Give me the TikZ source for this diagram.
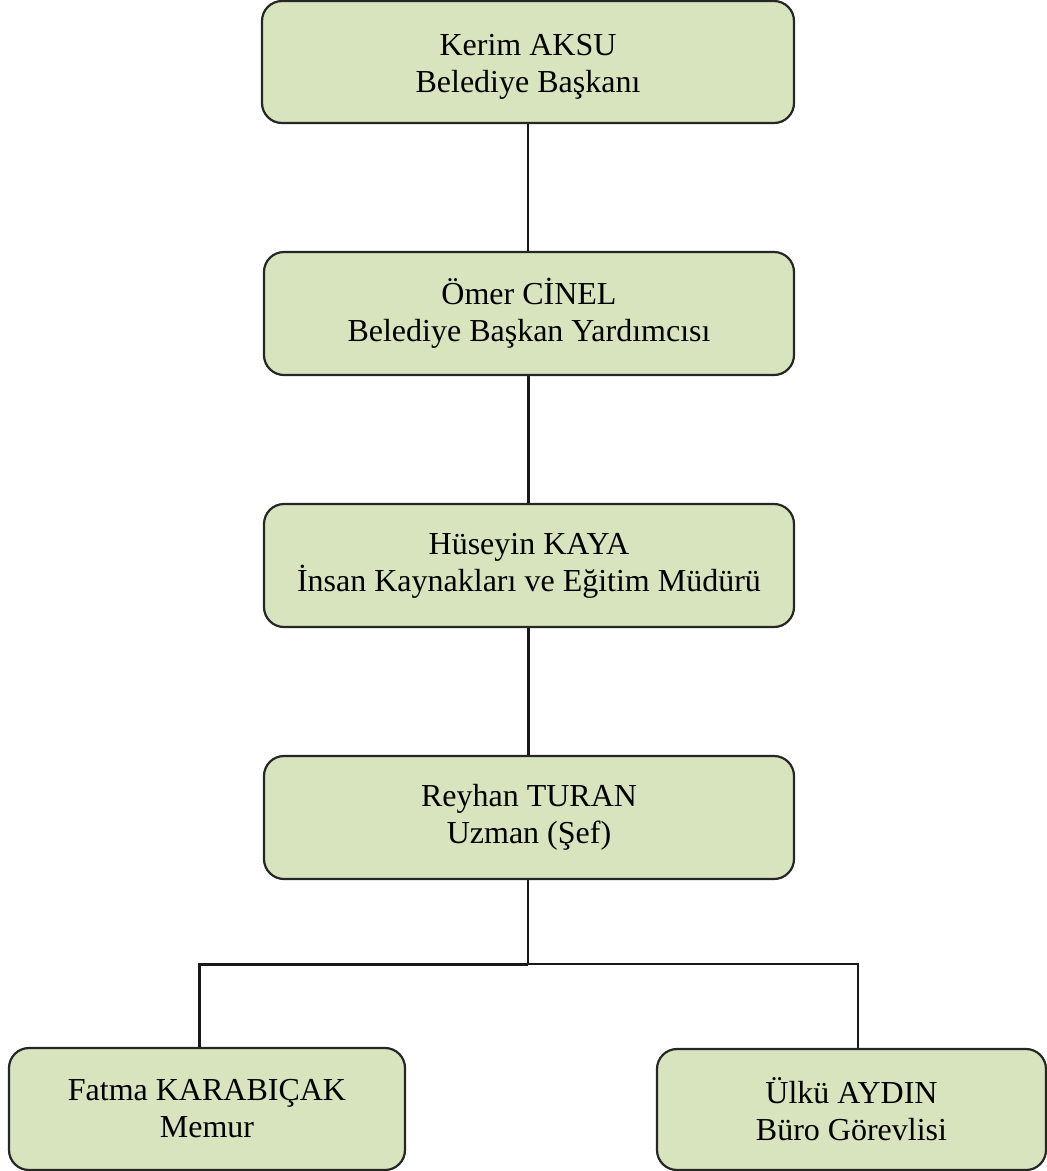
\documentclass[tikz,border=0pt]{standalone}
\usepackage{fontspec}
\setmainfont{Liberation Serif}
\definecolor{boxfill}{HTML}{D7E4BD}
\begin{document}
\begin{tikzpicture}[x=1pt,y=-1pt,
  orgbox/.style={draw=black!85, line width=2.2pt, fill=boxfill, rounded corners=20pt,
    inner sep=0pt, align=center, font=\fontsize{32}{37}\selectfont},
  link/.style={draw=black!90, line width=3pt},
  thinlink/.style={draw=black!90, line width=2.3pt}]
\useasboundingbox (0,0) rectangle (1047,1171);
\node[orgbox, minimum width=532pt, minimum height=122pt] (k) at (528,62) {\rule{0pt}{30pt}Kerim AKSU\\Belediye Başkanı};
\node[orgbox, minimum width=530pt, minimum height=123pt] (o) at (529,313.5) {Ömer CİNEL\\Belediye Başkan Yardımcısı};
\node[orgbox, minimum width=530pt, minimum height=123pt] (h) at (529,565.5) {Hüseyin KAYA\\İnsan Kaynakları ve Eğitim Müdürü};
\node[orgbox, minimum width=530pt, minimum height=123pt] (r) at (529,817.5) {Reyhan TURAN\\Uzman (Şef)};
\node[orgbox, minimum width=396pt, minimum height=122pt] (f) at (207,1109) {Fatma KARABIÇAK\\Memur};
\node[orgbox, minimum width=389pt, minimum height=121pt] (u) at (851.5,1109.5) {Ülkü AYDIN\\Büro Görevlisi};
\coordinate (j) at (528,964);
\coordinate (jl) at (199,964);
\coordinate (jr) at (858,964);
\draw[thinlink] (k.south -| j) -- (o.north -| j);
\draw[link] (o.south -| j) -- (h.north -| j);
\draw[link] (h.south -| j) -- (r.north -| j);
\draw[thinlink] (r.south -| j) -- (j);
\draw[link] (jl |- f.north) -- (jl) -- (j);
\draw[thinlink] (j) -- (jr) -- (jr |- u.north);
\end{tikzpicture}
\end{document}
